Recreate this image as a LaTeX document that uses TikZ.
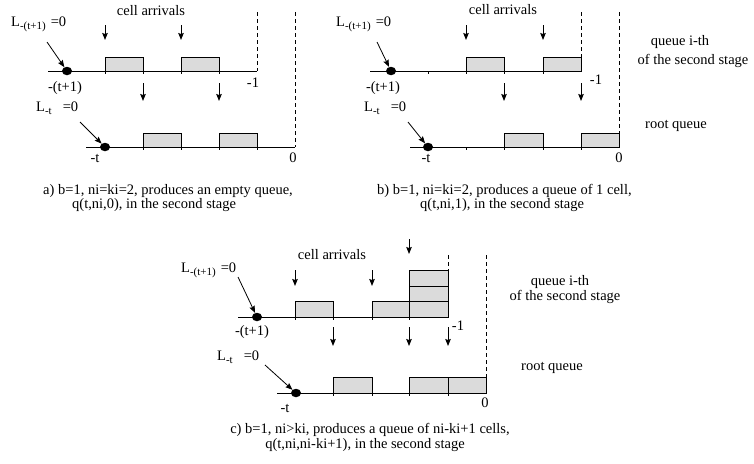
\documentclass[tikz,border=0pt]{standalone}
\usepackage{fontspec}
\setmainfont{Liberation Serif}
\usetikzlibrary{arrows.meta,shapes.geometric}

\newcommand{\lsub}[1]{\raisebox{-3pt}{\fontsize{11}{12}\selectfont #1}}

\begin{document}
\begin{tikzpicture}[x=1pt,y=-1pt,>={Stealth[length=7pt,width=5.5pt,inset=1pt]},
  every node/.style={font=\fontsize{14.5}{17}\selectfont,inner sep=0pt},
  time axis/.style={line width=0.8pt},
  cell box/.style={draw,fill=gray!28,line width=0.8pt},
  arrival/.style={->,line width=1pt},
  limit/.style={line width=0.8pt,dash pattern=on 4pt off 3pt},
  queue dot/.style={ellipse,fill=black,minimum width=10pt,minimum height=8.5pt},
  pointer/.style={->,line width=0.8pt}]

  \useasboundingbox (0,0) rectangle (754,463);

  % ---- a) empty queue
  \draw[time axis] (48,71) -- (257,71);
  \draw[time axis] (86,147) -- (295,147);
  \foreach \x in {105,143,181,219} \draw[time axis] (\x,71) -- (\x,74);
  \foreach \x in {143,181,219,257} \draw[time axis] (\x,147) -- (\x,150);
  \draw[cell box] (105,57) rectangle (143,71);
  \draw[cell box] (181,57) rectangle (219,71);
  \draw[cell box] (143,133) rectangle (181,147);
  \draw[cell box] (219,133) rectangle (257,147);
  \draw[limit] (257,12) -- (257,71);
  \draw[limit] (295,12) -- (295,147);
  \draw[arrival] (105,25) -- (105,40);
  \draw[arrival] (181,25) -- (181,40);
  \draw[arrival] (143,83) -- (143,101);
  \draw[arrival] (219,83) -- (219,101);
  \node[queue dot] (dotA1) at (67,71) {};
  \node[queue dot] (dotA2) at (105,147) {};
  \coordinate (pA1) at (47,42);
  \coordinate (pA2) at (80,122);
  \draw[pointer] (pA1) -- (dotA1);
  \draw[pointer] (pA2) -- (dotA2);
  \node (arrA) at (151,11) {cell arrivals};
  \node[anchor=west] (lA1) at (11,24) {L\lsub{-(t+1)}\hspace{5pt}=0};
  \node[anchor=west] (lA2) at (36,108) {L\lsub{-t}\hspace{11pt}=0};
  \node (tA1) at (65,88) {-(t+1)};
  \node (mA1) at (253,83) {-1};
  \node (tA2) at (95,158) {-t};
  \node (zA) at (293,158) {0};
  \node[anchor=west] (capA1) at (43,191) {a) b=1, ni=ki=2, produces an empty queue,};
  \node[anchor=west] (capA2) at (72,205) {q(t,ni,0), in the second stage};

  % ---- b) queue of 1 cell
  \draw[time axis] (370,71) -- (581,71);
  \draw[time axis] (410,147) -- (619,147);
  \foreach \x in {428,466,504,543} \draw[time axis] (\x,71) -- (\x,74);
  \foreach \x in {466,504,543,581} \draw[time axis] (\x,147) -- (\x,150);
  \draw[cell box] (466,57) rectangle (504,71);
  \draw[cell box] (543,57) rectangle (581,71);
  \draw[cell box] (504,133) rectangle (543,147);
  \draw[cell box] (581,133) rectangle (619,147);
  \draw[limit] (581,12) -- (581,57);
  \draw[limit] (619,12) -- (619,133);
  \draw[arrival] (466,25) -- (466,40);
  \draw[arrival] (543,25) -- (543,40);
  \draw[arrival] (504,83) -- (504,101);
  \draw[arrival] (581,83) -- (581,101);
  \node[queue dot] (dotB1) at (391,71) {};
  \node[queue dot] (dotB2) at (428,147) {};
  \coordinate (pB1) at (377,42);
  \coordinate (pB2) at (408,122);
  \draw[pointer] (pB1) -- (dotB1);
  \draw[pointer] (pB2) -- (dotB2);
  \node (arrB) at (503,10) {cell arrivals};
  \node[anchor=west] (lB1) at (336,24) {L\lsub{-(t+1)}\hspace{5pt}=0};
  \node[anchor=west] (lB2) at (364,108) {L\lsub{-t}\hspace{11pt}=0};
  \node (tB1) at (383,88) {-(t+1)};
  \node (mB1) at (596,80) {-1};
  \node (tB2) at (426,158) {-t};
  \node (zB) at (619,158) {0};
  \node (qB1) at (680,42) {queue i-th};
  \node (qB2) at (693,61) {of the second stage};
  \node (rB) at (676,126) {root queue};
  \node[anchor=west] (capB1) at (377,191) {b) b=1, ni=ki=2, produces a queue of 1 cell,};
  \node[anchor=west] (capB2) at (420,205) {q(t,ni,1), in the second stage};

  % ---- c) queue of ni-ki+1 cells
  \draw[time axis] (238,317) -- (448,317);
  \draw[time axis] (277,393) -- (486,393);
  \foreach \x in {295,333,372,409} \draw[time axis] (\x,317) -- (\x,320);
  \foreach \x in {333,372,409,448} \draw[time axis] (\x,393) -- (\x,396);
  \draw[cell box] (295,301) rectangle (333,317);
  \draw[cell box] (372,301) rectangle (409,317);
  \draw[cell box] (409,301) rectangle (448,317);
  \draw[cell box] (409,286) rectangle (448,301);
  \draw[cell box] (409,270) rectangle (448,286);
  \draw[cell box] (333,377) rectangle (372,393);
  \draw[cell box] (409,377) rectangle (448,393);
  \draw[cell box] (448,377) rectangle (486,393);
  \draw[limit] (448,255) -- (448,270);
  \draw[limit] (486,255) -- (486,377);
  \draw[arrival] (295,270) -- (295,286);
  \draw[arrival] (372,270) -- (372,286);
  \draw[arrival] (409,239) -- (409,254);
  \draw[arrival] (333,327) -- (333,346);
  \draw[arrival] (409,327) -- (409,346);
  \draw[arrival] (448,327) -- (448,346);
  \node[queue dot] (dotC1) at (257,317) {};
  \node[queue dot] (dotC2) at (296,393) {};
  \coordinate (pC1) at (238,277);
  \coordinate (pC2) at (265,365);
  \draw[pointer] (pC1) -- (dotC1);
  \draw[pointer] (pC2) -- (dotC2);
  \node (arrC) at (332,255) {cell arrivals};
  \node[anchor=west] (lC1) at (181,270) {L\lsub{-(t+1)}\hspace{5pt}=0};
  \node[anchor=west] (lC2) at (217,357) {L\lsub{-t}\hspace{11pt}=0};
  \node (tC1) at (252,332) {-(t+1)};
  \node (mC1) at (458,326) {-1};
  \node (tC2) at (285,408) {-t};
  \node (zC) at (485,403) {0};
  \node (qC1) at (560,282) {queue i-th};
  \node (qC2) at (565,297) {of the second stage};
  \node (rC) at (552,368) {root queue};
  \node (capC1) at (370,430) {c) b=1, ni>ki, produces a queue of ni-ki+1 cells,};
  \node (capC2) at (365,445) {q(t,ni,ni-ki+1), in the second stage};
\end{tikzpicture}
\end{document}
